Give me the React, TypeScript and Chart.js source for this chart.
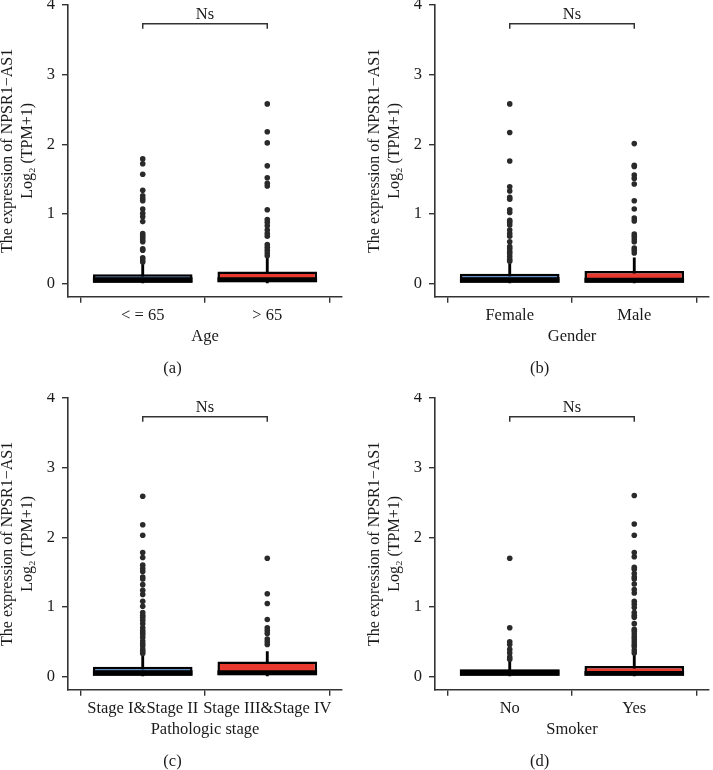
import React, { useEffect, useRef } from "react";
import { Chart, registerables } from "chart.js";

Chart.register(...registerables);

const FONT = "'Liberation Serif', 'Times New Roman', serif";
const TEXT = "#1a1a1a";
const AXIS = "#333333";
const BLUE = "#4a7ec0";
const RED = "#e8392e";
const POINT = "#2a2a2a";

// ---- shared axis / annotation values ----
const yTickValues = [0, 1, 2, 3, 4];
const yMin = -0.19;
const yMax = 4;
const yTitle = ["The expression of NPSR1\u2212AS1", "Log\u2082 (TPM+1)"];
const sigLabel = "Ns";
const bracketTop = 3.73;
const bracketFoot = 3.66;
const sigY = 3.86;
const boxColors = [BLUE, RED];

// ---- (a) Age ----
const ageCategories = ["< = 65", "> 65"];
const ageQ1 = [0.01, 0.02];
const ageMedian = [0.09, 0.09];
const ageQ3 = [0.135, 0.175];
const ageWhiskerLow = [0, 0];
const ageWhiskerHigh = [0.29, 0.37];
const ageOutliersG1 = [1.79, 1.72, 1.57, 1.34, 1.26, 1.22, 1.19, 1.07, 1.01, 0.96, 0.89, 0.72, 0.69, 0.66, 0.63, 0.6, 0.5, 0.48, 0.37, 0.34, 0.31];
const ageOutliersG2 = [2.58, 2.18, 2.02, 1.69, 1.52, 1.44, 1.4, 1.06, 0.92, 0.88, 0.83, 0.77, 0.72, 0.68, 0.56, 0.52, 0.48, 0.44, 0.4];

// ---- (b) Gender ----
const genderCategories = ["Female", "Male"];
const genderQ1 = [0.01, 0.01];
const genderMedian = [0.09, 0.085];
const genderQ3 = [0.14, 0.18];
const genderWhiskerLow = [0, 0];
const genderWhiskerHigh = [0.28, 0.37];
const genderOutliersG1 = [2.58, 2.17, 1.76, 1.39, 1.33, 1.24, 1.21, 1.06, 1.02, 0.91, 0.88, 0.84, 0.77, 0.72, 0.68, 0.6, 0.53, 0.5, 0.46, 0.43, 0.39, 0.35, 0.32];
const genderOutliersG2 = [2.01, 1.7, 1.68, 1.56, 1.51, 1.43, 1.19, 1.07, 0.94, 0.9, 0.71, 0.68, 0.64, 0.6, 0.51, 0.48, 0.44];

// ---- (c) Pathologic stage ----
const stageCategories = ["Stage I&Stage II", "Stage III&Stage IV"];
const stageQ1 = [0.01, 0.02];
const stageMedian = [0.09, 0.09];
const stageQ3 = [0.14, 0.215];
const stageWhiskerLow = [0, 0];
const stageWhiskerHigh = [0.3, 0.36];
const stageOutliersG1 = [2.59, 2.18, 2.03, 1.78, 1.71, 1.6, 1.55, 1.51, 1.43, 1.4, 1.32, 1.24, 1.18, 1.08, 1.01, 0.92, 0.88, 0.85, 0.81, 0.76, 0.7, 0.66, 0.63, 0.6, 0.56, 0.51, 0.47, 0.44, 0.39, 0.36, 0.33];
const stageOutliersG2 = [1.7, 1.19, 1.05, 0.82, 0.7, 0.66, 0.62, 0.54, 0.5, 0.46];

// ---- (d) Smoker ----
const smokerCategories = ["No", "Yes"];
const smokerQ1 = [0.0, 0.0];
const smokerMedian = [0.1, 0.08];
const smokerQ3 = [0.1, 0.15];
const smokerWhiskerLow = [0, 0];
const smokerWhiskerHigh = [0.22, 0.31];
const smokerOutliersG1 = [1.7, 0.7, 0.5, 0.46, 0.39, 0.34, 0.28, 0.25];
const smokerOutliersG2 = [2.6, 2.19, 2.03, 1.78, 1.72, 1.57, 1.54, 1.48, 1.43, 1.4, 1.33, 1.25, 1.2, 1.08, 1.04, 0.99, 0.92, 0.88, 0.85, 0.76, 0.68, 0.65, 0.61, 0.57, 0.54, 0.5, 0.46, 0.43, 0.38, 0.34];

const panels = [
  { label: "(a)", xTitle: "Age", cats: ageCategories, q1: ageQ1, med: ageMedian, q3: ageQ3, wLo: ageWhiskerLow, wHi: ageWhiskerHigh, out: [ageOutliersG1, ageOutliersG2], left: 0, top: 0 },
  { label: "(b)", xTitle: "Gender", cats: genderCategories, q1: genderQ1, med: genderMedian, q3: genderQ3, wLo: genderWhiskerLow, wHi: genderWhiskerHigh, out: [genderOutliersG1, genderOutliersG2], left: 367, top: 0 },
  { label: "(c)", xTitle: "Pathologic stage", cats: stageCategories, q1: stageQ1, med: stageMedian, q3: stageQ3, wLo: stageWhiskerLow, wHi: stageWhiskerHigh, out: [stageOutliersG1, stageOutliersG2], left: 0, top: 393 },
  { label: "(d)", xTitle: "Smoker", cats: smokerCategories, q1: smokerQ1, med: smokerMedian, q3: smokerQ3, wLo: smokerWhiskerLow, wHi: smokerWhiskerHigh, out: [smokerOutliersG1, smokerOutliersG2], left: 367, top: 393 },
];

const W = 346;
const H = 385;

function buildConfig(p: any): any {
  const font = { family: FONT, size: 16.5, weight: "normal" as const, lineHeight: 1.25 };
  const sigPlugin = {
    id: "sig",
    afterDatasetsDraw(chart: any) {
      const ctx = chart.ctx;
      const xs = chart.scales.x;
      const ys = chart.scales.y;
      ctx.save();
      ctx.font = `16.5px ${FONT}`;
      ctx.fillStyle = TEXT;
      ctx.textAlign = "center";
      ctx.textBaseline = "middle";
      ctx.fillText(sigLabel, xs.getPixelForValue(1.5), ys.getPixelForValue(sigY));
      ctx.restore();
    },
  };
  const outlierData: any[] = [];
  p.out.forEach((arr: number[], gi: number) => arr.forEach((v) => outlierData.push({ x: gi + 1, y: v })));
  return {
    type: "bar",
    data: {
      datasets: [
        {
          type: "line",
          data: [
            { x: 1, y: bracketFoot },
            { x: 1, y: bracketTop },
            { x: 2, y: bracketTop },
            { x: 2, y: bracketFoot },
          ],
          borderColor: AXIS,
          borderWidth: 1.5,
          pointRadius: 0,
          fill: false,
          tension: 0,
          order: 0,
        },
        {
          type: "scatter",
          data: outlierData,
          backgroundColor: POINT,
          borderWidth: 0,
          pointRadius: 2.8,
          order: 1,
        },
        {
          type: "bar",
          data: p.cats.map((_: string, i: number) => ({ x: i + 1, y: [p.q1[i], p.med[i]] })),
          backgroundColor: "#000",
          borderWidth: 0,
          grouped: false,
          barPercentage: 0.8,
          categoryPercentage: 1,
          order: 2,
        },
        {
          type: "bar",
          data: p.cats.map((_: string, i: number) => ({ x: i + 1, y: [p.q1[i], p.q3[i]] })),
          backgroundColor: boxColors,
          borderColor: "#000",
          borderWidth: 2.5,
          borderSkipped: false,
          grouped: false,
          barPercentage: 0.8,
          categoryPercentage: 1,
          order: 3,
        },
        {
          type: "bar",
          data: p.cats.map((_: string, i: number) => ({ x: i + 1, y: [p.wLo[i], p.wHi[i]] })),
          backgroundColor: "#000",
          borderWidth: 0,
          grouped: false,
          barThickness: 2.2,
          order: 4,
        },
      ],
    },
    options: {
      responsive: false,
      animation: false,
      layout: { padding: { top: 5, left: 0, right: 1, bottom: 0 } },
      plugins: {
        legend: { display: false },
        tooltip: { enabled: false },
        title: {
          display: true,
          position: "bottom",
          text: p.label,
          color: TEXT,
          font: { family: FONT, size: 16.5, weight: "normal", lineHeight: 1.2 },
          padding: { top: 12.2, bottom: 6.2 },
        },
      },
      scales: {
        x: {
          type: "linear",
          min: 0.4,
          max: 2.6,
          offset: false,
          afterBuildTicks: (s: any) => {
            s.ticks = p.cats.map((_: string, i: number) => ({ value: i + 1 }));
          },
          afterFit: (s: any) => {
            s.height = 50;
            s.paddingLeft = 0;
            s.paddingRight = 0;
          },
          ticks: {
            color: TEXT,
            font,
            padding: 3,
            autoSkip: false,
            maxRotation: 0,
            minRotation: 0,
            callback: (_v: any, i: number) => p.cats[i],
          },
          grid: { drawOnChartArea: false, drawTicks: true, tickLength: 6, color: AXIS, lineWidth: 1.4 },
          border: { display: true, color: AXIS, width: 1.6 },
          title: { display: true, text: p.xTitle, color: TEXT, font, padding: { top: 0, bottom: 0 } },
        },
        y: {
          type: "linear",
          min: yMin,
          max: yMax,
          afterBuildTicks: (s: any) => {
            s.ticks = yTickValues.map((v) => ({ value: v }));
          },
          afterFit: (s: any) => {
            s.width = 68;
            s.paddingTop = 0;
            s.paddingBottom = 0;
          },
          ticks: { color: TEXT, font, padding: 7 },
          grid: { drawOnChartArea: false, drawTicks: true, tickLength: 6, color: AXIS, lineWidth: 1.4 },
          border: { display: true, color: AXIS, width: 1.6 },
          title: { display: true, text: yTitle, color: TEXT, font: { ...font, size: 16, lineHeight: 1.25 }, padding: { top: -2, bottom: 0 } },
        },
      },
    },
    plugins: [sigPlugin],
  };
}

function Panel({ p }: { p: any }) {
  const ref = useRef<HTMLCanvasElement | null>(null);
  useEffect(() => {
    if (!ref.current) return;
    const chart = new Chart(ref.current, buildConfig(p));
    return () => chart.destroy();
  }, [p]);
  return (
    <canvas
      ref={ref}
      width={W}
      height={H}
      style={{ position: "absolute", left: p.left, top: p.top, width: W, height: H, display: "block" }}
    />
  );
}

export default function App() {
  return (
    <div style={{ position: "absolute", left: 0, top: 0, width: 713, height: 770, overflow: "hidden", background: "#fff" }}>
      {panels.map((p) => (
        <Panel key={p.label} p={p} />
      ))}
    </div>
  );
}
